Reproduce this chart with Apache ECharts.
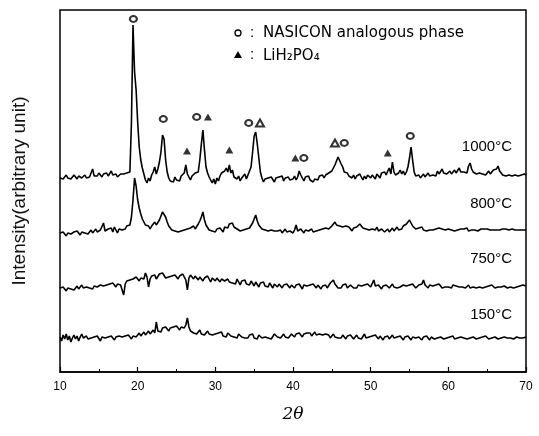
<!DOCTYPE html>
<html><head><meta charset="utf-8">
<script src="https://cdn.jsdelivr.net/npm/echarts/dist/echarts.min.js"></script>
<style>html,body{margin:0;padding:0;background:#fff}#c{width:539px;height:436px}</style>
</head><body><div id="c"></div>
<script>
// 2θ scan grid
const scanStart = 10, scanStep = 0.2;
// intensities (arbitrary units, stacked offsets as plotted)
const i1000 = [
194,196,193,195,197,194,196,193,195,197,
195,193,196,198,194,195,197,194,196,195,
197,203,196,198,196,199,197,195,198,197,
199,196,198,201,197,196,198,195,197,198,
196,198,197,199,198,200,250,347,300,282,
250,225,212,204,198,192,189,194,191,197,
200,205,198,203,210,220,237,233,212,200,
194,191,193,190,195,192,194,191,196,194,
199,207,198,195,192,196,194,199,197,200,
212,228,242,222,205,199,195,192,189,193,
188,194,191,196,199,197,201,204,200,207,
199,202,195,197,193,196,191,194,192,198,
193,197,195,205,220,236,240,228,214,200,
194,190,193,191,194,192,195,193,190,194,
192,195,193,196,191,194,193,195,192,194,
193,196,192,195,201,197,194,191,195,193,
196,192,194,190,193,195,192,196,194,197,
194,197,195,199,197,201,203,207,211,215,
213,208,205,200,202,199,196,198,194,197,
193,196,194,198,195,192,196,193,197,195,
194,197,195,193,198,196,194,199,197,200,
197,201,204,198,210,200,197,196,199,202,
198,201,197,200,205,214,225,212,200,196,
195,197,194,196,198,195,197,199,196,198,
197,199,196,201,198,200,203,199,201,198,
199,201,198,200,202,199,201,204,200,198,
200,202,199,206,209,203,200,202,198,200,
199,201,198,200,197,199,201,198,200,202,
200,203,206,201,199,197,199,196,198,197,
199,196,198,197,199,196,198,197,195,198,
197];
const i800 = [
139,137,140,138,136,139,141,138,137,140,
138,141,139,137,140,142,139,141,138,140,
142,139,141,143,140,138,142,140,149,141,
140,143,141,144,140,145,142,139,143,141,
142,144,143,146,144,147,155,172,194,186,
172,164,158,153,150,147,145,146,143,146,
148,150,147,149,152,156,160,162,155,150,
146,144,142,144,141,143,140,142,141,143,
142,140,143,141,144,142,146,143,145,148,
151,155,160,152,147,145,142,144,141,143,
140,143,141,144,142,140,145,147,144,148,
146,149,145,147,143,144,141,140,142,141,
143,141,144,146,149,153,157,151,147,145,
143,141,142,140,141,139,142,140,141,139,
141,140,142,139,141,143,140,138,141,140,
139,142,147,141,140,143,141,139,142,140,
141,139,143,140,142,141,139,142,140,143,
141,144,142,143,145,146,148,150,147,145,
146,144,145,143,146,144,145,143,141,144,
143,145,147,148,146,144,142,143,141,142,
140,143,141,142,145,141,140,143,142,140,
141,143,140,142,144,141,143,145,142,144,
143,146,145,148,150,152,149,146,144,143,
142,144,143,145,142,144,141,143,142,144,
142,141,143,142,144,142,143,141,142,144,
143,141,142,144,141,143,142,144,143,141,
143,142,144,141,143,142,144,142,143,141,
142,143,141,143,142,143,144,142,143,142,
143,142,143,142,143,143,142,143,142,142,
142,143,142,142,143,142,142,142,142,142,
142];
const i750 = [
84,82,85,83,81,84,86,83,85,82,
84,86,83,85,87,84,82,85,86,84,
85,83,86,88,85,84,87,85,86,88,
87,85,88,86,89,87,85,88,90,87,
89,77,88,91,89,92,90,93,91,95,
93,91,94,96,93,99,95,85,93,96,
94,97,93,95,98,96,99,97,94,96,
95,93,96,94,97,95,93,96,94,98,
95,92,82,94,97,95,93,96,94,92,
95,93,91,94,92,96,93,90,94,92,
91,94,92,90,93,95,91,89,93,90,
92,89,91,88,93,90,87,91,89,92,
88,90,87,91,89,86,90,88,85,89,
87,90,86,88,85,89,87,84,88,86,
85,88,86,84,87,85,88,86,84,87,
86,84,87,85,88,86,83,87,85,86,
84,87,85,88,86,84,87,85,83,86,
85,87,84,86,89,87,92,88,86,84,
86,84,87,85,88,84,86,87,85,84,
86,84,87,85,86,84,87,85,88,86,
85,87,92,86,84,87,85,83,86,84,
87,85,84,86,88,85,87,84,86,85,
84,87,85,86,84,87,85,88,86,84,
85,87,86,88,92,87,86,84,87,85,
86,84,87,85,88,86,84,86,85,87,
85,86,84,87,85,86,84,85,87,85,
86,84,85,87,84,86,85,87,84,86,
85,87,84,86,85,84,86,85,87,85,
84,86,85,87,85,84,86,85,84,86,
85,87,84,86,85,84,86,85,87,86,
86];
const i150 = [
35,31,37,33,38,32,36,30,34,37,
33,36,31,35,38,34,32,36,33,35,
34,32,35,33,36,34,31,35,33,34,
32,35,33,36,34,32,35,33,36,34,
35,33,36,34,37,35,33,36,38,35,
37,39,36,38,40,37,39,41,38,40,
42,39,50,41,43,40,44,42,45,43,
41,44,42,45,43,46,44,42,45,43,
44,47,54,45,41,43,39,41,38,40,
42,38,40,37,39,41,38,40,37,39,
38,36,39,37,40,36,38,35,39,37,
36,38,35,37,34,38,36,35,37,34,
36,34,37,35,38,34,36,33,37,35,
34,36,35,37,34,36,33,35,38,36,
35,37,34,36,38,35,37,34,36,38,
37,35,38,36,39,37,35,38,36,39,
37,39,36,38,40,37,35,38,36,37,
35,38,36,37,34,36,38,35,37,34,
36,34,37,35,33,36,34,37,35,33,
35,37,34,36,33,35,38,34,36,35,
33,36,34,37,35,33,36,34,32,35,
34,36,33,35,37,34,32,35,33,36,
34,32,35,33,36,34,32,35,33,34,
33,35,34,32,35,33,36,34,32,35,
34,33,35,34,32,35,34,33,35,34,
33,35,34,36,33,35,34,32,35,33,
34,35,33,35,34,33,35,34,33,35,
34,33,35,34,36,34,33,35,34,33,
35,34,33,35,34,33,35,34,34,33,
34,35,33,34,35,33,34,36,34,35,
35];
// peak markers [2θ, height]
const nasiconMarks = [[19.45,353],[23.3,253],[27.6,255],[34.3,249],[41.4,214],[46.6,229],[55.1,236]];
const lihFilledMarks = [[26.35,221],[29.05,255],[31.8,222],[40.3,214],[52.2,219]];
const lihOpenMarks = [[35.75,249],[45.4,229]];
const tempLabels = ['1000°C','800°C','750°C','150°C'];
const legendTexts = ['NASICON analogous phase','LiH₂PO₄'];

const toPairs = arr => arr.map((v,i)=>[+(scanStart + i*scanStep).toFixed(2), v]);
const traces = [i1000, i800, i750, i150];

const chart = echarts.init(document.getElementById('c'), null, {renderer:'canvas'});
const FONT = '"Liberation Sans", "DejaVu Sans", sans-serif';
const lineSeries = traces.map(t => ({
  type:'line', data: toPairs(t), symbol:'none', showSymbol:false, silent:true,
  lineStyle:{color:'#000', width:1.6}, z:2
}));
const tempY = [147, 204, 259, 315];
const graphic = tempLabels.map((t,k)=>({
  type:'text', x:512, y:tempY[k],
  style:{text:t, fill:'#000', font:'15px '+FONT, align:'right', verticalAlign:'middle'}
}));
graphic.push(
  {type:'circle', shape:{cx:238, cy:33, r:3}, style:{fill:'#fff', stroke:'#000', lineWidth:1.3}},
  {type:'text', x:250, y:33, style:{text:':', fill:'#000', font:'15px '+FONT, verticalAlign:'middle'}},
  {type:'text', x:263, y:33, style:{text:legendTexts[0], fill:'#000', font:'15px "DejaVu Sans", sans-serif', verticalAlign:'middle'}},
  {type:'polygon', shape:{points:[[234,58],[242,58],[238,51]]}, style:{fill:'#000'}},
  {type:'text', x:250, y:55, style:{text:':', fill:'#000', font:'15px '+FONT, verticalAlign:'middle'}},
  {type:'text', x:263, y:56, style:{text:legendTexts[1], fill:'#000', font:'15px "DejaVu Sans", sans-serif', verticalAlign:'middle'}}
);

chart.setOption({
  animation:false,
  backgroundColor:'#fff',
  grid:{left:60, right:13, top:10, bottom:64, show:true, borderColor:'#000', borderWidth:1.5, outerBoundsMode:'none', containLabel:false},
  xAxis:{
    type:'value', min:10, max:70, interval:10,
    name:'2θ', nameLocation:'middle', nameGap:34,
    nameTextStyle:{fontSize:17, fontStyle:'italic', color:'#000', fontFamily:'"DejaVu Serif", serif'},
    axisLine:{show:true, lineStyle:{color:'#000', width:1.5}},
    axisTick:{show:true, inside:true, length:5, lineStyle:{color:'#000', width:1.2}},
    minorTick:{show:true, splitNumber:2, length:3, lineStyle:{color:'#000', width:1}},
    axisLabel:{color:'#000', fontSize:12, fontFamily:FONT, margin:9},
    splitLine:{show:false}
  },
  yAxis:{
    type:'value', min:0, max:362,
    name:'Intensity(arbitrary unit)', nameLocation:'middle', nameGap:31,
    nameTextStyle:{fontSize:19, color:'#111', fontFamily:FONT},
    axisLine:{show:false}, axisTick:{show:false}, axisLabel:{show:false}, splitLine:{show:false}
  },
  series: lineSeries.concat([
    {type:'scatter', data:nasiconMarks, symbol:'emptyCircle', symbolSize:[7,6], itemStyle:{color:'#000', borderColor:'#000', borderWidth:1.3}, z:3, silent:true},
    {type:'scatter', data:lihFilledMarks, symbol:'triangle', symbolSize:[8,7], itemStyle:{color:'#000'}, z:3, silent:true},
    {type:'scatter', data:lihOpenMarks, symbol:'emptyTriangle', symbolSize:[8,7], itemStyle:{color:'#000', borderColor:'#000', borderWidth:1.3}, z:3, silent:true}
  ]),
  graphic
});
</script></body></html>
